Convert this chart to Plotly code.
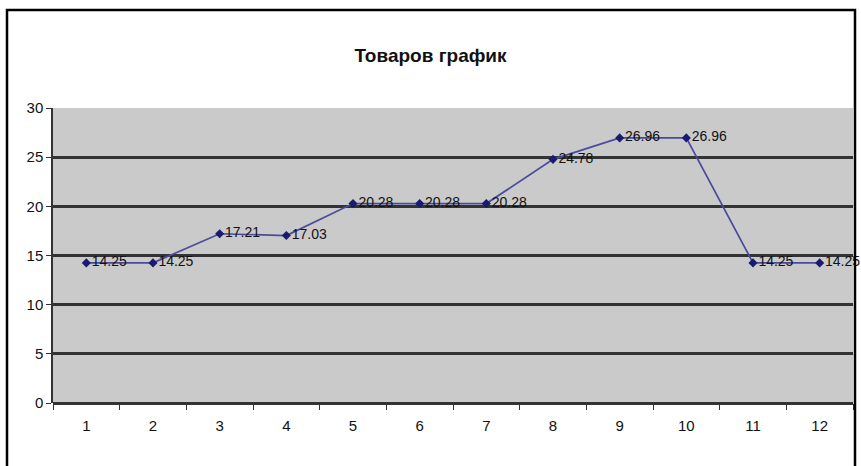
import plotly.graph_objects as go

categories = ["1", "2", "3", "4", "5", "6", "7", "8", "9", "10", "11", "12"]
values = [14.25, 14.25, 17.21, 17.03, 20.28, 20.28, 20.28, 24.78, 26.96, 26.96, 14.25, 14.25]
labels = ["14.25", "14.25", "17.21", "17.03", "20.28", "20.28", "20.28", "24.78", "26.96", "26.96", "14.25", "14.25"]
y_ticks = [0, 5, 10, 15, 20, 25, 30]
title = "Товаров график"

FONT = "Liberation Sans, Arial"

fig = go.Figure()
fig.add_trace(go.Scatter(
    x=categories, y=values, mode="lines+markers+text",
    text=labels, textposition="middle right",
    textfont=dict(family=FONT, size=14, color="#111111"),
    line=dict(color="#4b4b9e", width=1.7),
    marker=dict(symbol="diamond", size=7, color="#1a1a70"),
    cliponaxis=False, showlegend=False,
))

fig.update_layout(
    width=861, height=466,
    margin=dict(l=53, r=8, t=108, b=63),
    paper_bgcolor="white", plot_bgcolor="#cacaca",
    title=dict(text="<b>" + title + "</b>", x=0.5, xanchor="center",
               y=1 - 55 / 466, yanchor="middle",
               font=dict(family=FONT, size=19, color="#111111")),
    font=dict(family=FONT, size=15, color="#111111"),
)
fig.update_xaxes(type="category", tickson="boundaries", ticks="outside", ticklen=6,
                 tickcolor="#333333", showgrid=False, showline=False,
                 range=[-0.5, 11.5], ticklabelstandoff=12, automargin=False)
fig.update_yaxes(range=[0, 30], tickvals=y_ticks, ticks="outside", ticklen=5,
                 tickcolor="#333333", showgrid=True, gridcolor="#333333", gridwidth=2.5,
                 showline=True, linecolor="#333333", linewidth=1.5,
                 zeroline=True, zerolinecolor="#333333", zerolinewidth=2.5,
                 automargin=False)

fig.add_shape(type="rect", xref="paper", yref="paper",
              x0=-0.0575, x1=1.0025, y0=-0.25, y1=1.332,
              line=dict(color="black", width=2.5), fillcolor="rgba(0,0,0,0)", layer="above")

fig.write_html("out.html", config={"displayModeBar": False},
               post_script="document.body.style.margin='0';document.body.style.overflow='hidden';")
